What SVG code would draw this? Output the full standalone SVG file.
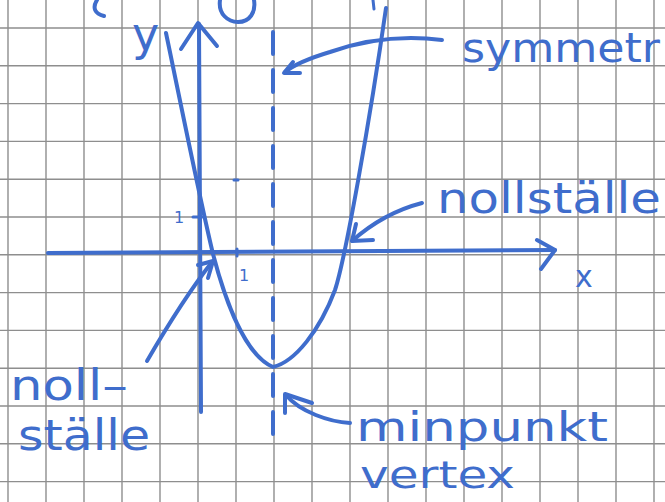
<svg xmlns="http://www.w3.org/2000/svg" width="665" height="502" viewBox="0 0 665 502">
<defs>
<style>
.grid line{stroke:#8e8e8e;stroke-width:1.4}
.ink{fill:none;stroke:#3f6dcc;stroke-width:4;stroke-linecap:round;stroke-linejoin:round}
.thin{fill:none;stroke:#3f6dcc;stroke-width:3;stroke-linecap:round;stroke-linejoin:round}
.lbl{fill:#3f6dcc;font-family:"DejaVu Sans","Liberation Sans",sans-serif;font-weight:normal}
</style>
</defs>
<rect width="665" height="502" fill="#ffffff"/>
<g class="grid" id="grid">
<line x1="8" y1="0" x2="8" y2="502"/><line x1="46" y1="0" x2="46" y2="502"/><line x1="84" y1="0" x2="84" y2="502"/><line x1="122" y1="0" x2="122" y2="502"/><line x1="160" y1="0" x2="160" y2="502"/><line x1="198" y1="0" x2="198" y2="502"/><line x1="236" y1="0" x2="236" y2="502"/><line x1="274" y1="0" x2="274" y2="502"/><line x1="312" y1="0" x2="312" y2="502"/><line x1="350" y1="0" x2="350" y2="502"/><line x1="388" y1="0" x2="388" y2="502"/><line x1="426" y1="0" x2="426" y2="502"/><line x1="464" y1="0" x2="464" y2="502"/><line x1="502" y1="0" x2="502" y2="502"/><line x1="540" y1="0" x2="540" y2="502"/><line x1="578" y1="0" x2="578" y2="502"/><line x1="616" y1="0" x2="616" y2="502"/><line x1="654" y1="0" x2="654" y2="502"/>
<line x1="0" y1="28" x2="665" y2="28"/><line x1="0" y1="65.8" x2="665" y2="65.8"/><line x1="0" y1="103.6" x2="665" y2="103.6"/><line x1="0" y1="141.4" x2="665" y2="141.4"/><line x1="0" y1="179.2" x2="665" y2="179.2"/><line x1="0" y1="217" x2="665" y2="217"/><line x1="0" y1="254.8" x2="665" y2="254.8"/><line x1="0" y1="292.6" x2="665" y2="292.6"/><line x1="0" y1="330.4" x2="665" y2="330.4"/><line x1="0" y1="368.2" x2="665" y2="368.2"/><line x1="0" y1="406" x2="665" y2="406"/><line x1="0" y1="443.8" x2="665" y2="443.8"/><line x1="0" y1="481.6" x2="665" y2="481.6"/>
</g>
<g id="axes">
<path class="ink" d="M48,253 L555,250"/>
<path class="ink" d="M537,240 L555,250 L541,269"/>
<path class="ink" d="M199,24 L201,412"/>
<path class="ink" d="M181,49 L198,23 L217,46"/>
<path class="thin" d="M193,217 L202,217"/>
<path class="thin" d="M237,249 L237,256"/>
<path class="thin" d="M234,180 L238,180"/>
</g>
<g id="parabola">
<path class="ink" d="M166,33 C180,100 200,200 213,254 C225,300 245,355 273,367 C295,362 320,330 335,290 C345,260 370,120 386,8"/>
</g>
<g id="symmetry-axis">
<path class="ink" d="M273,32 L273,450" stroke-dasharray="22 16"/>
</g>
<g id="connectors">
<path class="ink" d="M442,40 C410,36 370,38 330,52 C310,58 295,64 285,72"/>
<path class="ink" d="M293,62 L284,73 L300,73"/>
<path class="ink" d="M422,203 C395,210 370,225 352,241"/>
<path class="ink" d="M356,224 L352,241 L373,240"/>
<path class="ink" d="M147,361 C165,330 190,290 212,262"/>
<path class="ink" d="M198,265 L213,261 L208,278"/>
<path class="ink" d="M350,423 C330,422 300,412 286,395"/>
<path class="ink" d="M285,413 L285,394 L312,403"/>
</g>
<g id="top-marks">
<path class="ink" d="M97,0 C92,8 95,14 104,16"/>
<path class="ink" d="M220,0 C218,14 228,22 238,22 C250,22 256,12 254,0"/>
<path class="thin" d="M373,0 L374,9"/>
</g>
<g id="label-y"><text class="lbl" x="132" y="50" font-size="46">y</text></g>
<g id="label-x"><text class="lbl" x="575" y="287" font-size="30">x</text></g>
<g id="tick-1y"><text class="lbl" x="174" y="223" font-size="16">1</text></g>
<g id="tick-1x"><text class="lbl" x="239" y="281" font-size="16">1</text></g>
<g id="label-symmetr"><text class="lbl" x="462" y="62" font-size="40" textLength="198" lengthAdjust="spacingAndGlyphs">symmetr</text></g>
<g id="label-nollstalle-right"><text class="lbl" x="437" y="213" font-size="42" textLength="224" lengthAdjust="spacingAndGlyphs">nollställe</text></g>
<g id="label-nollstalle-left">
<text class="lbl" x="10" y="400" font-size="42" textLength="118" lengthAdjust="spacingAndGlyphs">noll–</text>
<text class="lbl" x="18" y="450" font-size="42" textLength="132" lengthAdjust="spacingAndGlyphs">ställe</text>
</g>
<g id="label-minpunkt">
<text class="lbl" x="356" y="441" font-size="40" textLength="252" lengthAdjust="spacingAndGlyphs">minpunkt</text>
<text class="lbl" x="360" y="488" font-size="38" textLength="155" lengthAdjust="spacingAndGlyphs">vertex</text>
</g>
</svg>
